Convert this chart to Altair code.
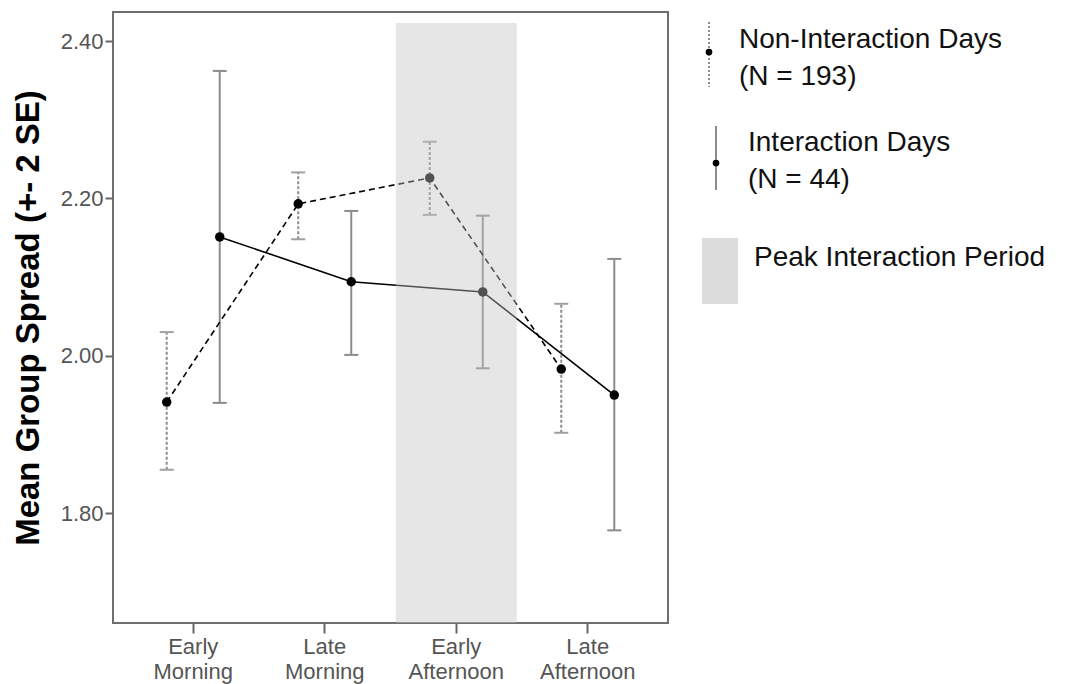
import altair as alt
import pandas as pd

# ---- data ----
periods = ["Early Morning", "Late Morning", "Early Afternoon", "Late Afternoon"]
series_names = ["Non-Interaction Days", "Interaction Days"]

non_mean = [1.941, 2.193, 2.226, 1.983]
non_lo = [1.855, 2.148, 2.179, 1.902]
non_hi = [2.030, 2.233, 2.272, 2.066]

int_mean = [2.151, 2.094, 2.081, 1.950]
int_lo = [1.940, 2.001, 1.984, 1.778]
int_hi = [2.362, 2.184, 2.178, 2.123]

y_ticks = [1.80, 2.00, 2.20, 2.40]
y_domain = [1.6602, 2.4369]
peak_period = ["Early Afternoon"]
peak_top = [2.4229]

legend_labels = ["Non-Interaction Days", "(N = 193)", "Interaction Days", "(N = 44)",
                 "Peak Interaction Period"]

rows = []
for i, p in enumerate(periods):
    rows.append({"period": p, "series": series_names[0], "mean": non_mean[i],
                 "lo": non_lo[i], "hi": non_hi[i]})
    rows.append({"period": p, "series": series_names[1], "mean": int_mean[i],
                 "lo": int_lo[i], "hi": int_hi[i]})
df = pd.DataFrame(rows)
df_non = df[df.series == series_names[0]]
df_int = df[df.series == series_names[1]]
shade_df = pd.DataFrame({"period": peak_period, "top": peak_top, "bottom": [y_domain[0]]})

FONT = "Liberation Sans"

x_enc = alt.X(
    "period:N",
    sort=periods,
    scale=alt.Scale(domain=periods, paddingInner=0, paddingOuter=0.11),
    axis=alt.Axis(
        title=None, labelAngle=0, labelExpr="split(datum.label, ' ')",
        labelFontSize=22, labelFont=FONT, labelColor="#555555", labelLineHeight=25,
        labelPadding=3, tickSize=10, tickColor="#666666", tickWidth=2, domain=False,
        grid=False,
    ),
)
xoff = alt.XOffset("series:N", sort=series_names,
                   scale=alt.Scale(domain=series_names, paddingInner=0, paddingOuter=0.24))

y_axis = alt.Axis(
    title="Mean Group Spread (+- 2 SE)", values=y_ticks, format=".2f",
    labelFontSize=22, labelFont=FONT, labelColor="#555555", labelPadding=2,
    tickSize=8, tickColor="#666666", tickWidth=2, domain=False, grid=False,
    titleFont=FONT, titleFontSize=33, titleFontWeight="bold", titleColor="#000000",
    titleAngle=-90, titleX=-85, titleY=305.5, titleAlign="center", titleBaseline="middle",
)
y_scale = alt.Scale(domain=y_domain, nice=False, zero=False)


def Y(field):
    return alt.Y(field, scale=y_scale, axis=y_axis)


# error bars
bars_non = alt.Chart(df_non).mark_rule(color="#8c8c8c", strokeWidth=2, strokeDash=[3, 2]).encode(
    x=x_enc, xOffset=xoff, y=Y("lo:Q"), y2="hi:Q")
bars_int = alt.Chart(df_int).mark_rule(color="#8c8c8c", strokeWidth=2).encode(
    x=x_enc, xOffset=xoff, y=Y("lo:Q"), y2="hi:Q")

caps = []
for d, col in ((df_non, "#a0a0a0"), (df_int, "#8c8c8c")):
    for f in ("lo:Q", "hi:Q"):
        caps.append(alt.Chart(d).mark_tick(color=col, size=14, thickness=2, opacity=1).encode(
            x=x_enc, xOffset=xoff, y=Y(f)))

line_non = alt.Chart(df_non).mark_line(color="#000000", strokeWidth=1.6, strokeDash=[6, 4]).encode(
    x=x_enc, xOffset=xoff, y=Y("mean:Q"))
line_int = alt.Chart(df_int).mark_line(color="#000000", strokeWidth=1.6).encode(
    x=x_enc, xOffset=xoff, y=Y("mean:Q"))
points = alt.Chart(df).mark_circle(color="#000000", size=90, opacity=1).encode(
    x=x_enc, xOffset=xoff, y=Y("mean:Q"))

shade = alt.Chart(shade_df).mark_bar(
    color="#c3c3c3", opacity=0.42, width=alt.RelativeBandSize(0.92)
).encode(x=x_enc, y=Y("top:Q"), y2="bottom:Q")

# ---- legend ----
one = pd.DataFrame({"k": [0]})
leg = []
leg.append(alt.Chart(one).mark_rule(color="#8c8c8c", strokeWidth=2, strokeDash=[2, 2]).encode(
    x=alt.value(596), y=alt.value(10), y2=alt.value(75)))
leg.append(alt.Chart(one).mark_circle(color="#000000", size=45, opacity=1).encode(
    x=alt.value(596), y=alt.value(40)))
leg.append(alt.Chart(one).mark_rule(color="#8c8c8c", strokeWidth=2).encode(
    x=alt.value(603), y=alt.value(114), y2=alt.value(178)))
leg.append(alt.Chart(one).mark_circle(color="#000000", size=45, opacity=1).encode(
    x=alt.value(603), y=alt.value(151)))
leg.append(alt.Chart(one).mark_rect(color="#dcdcdc").encode(
    x=alt.value(589), x2=alt.value(625), y=alt.value(226), y2=alt.value(292)))

text_pos = [(626, 28), (626, 65), (635, 131), (635, 168), (641, 246)]
for lab, (tx, ty) in zip(legend_labels, text_pos):
    leg.append(alt.Chart(pd.DataFrame({"label": [lab]})).mark_text(
        align="left", baseline="middle", font=FONT, fontSize=28, color="#111111"
    ).encode(x=alt.value(tx), y=alt.value(ty), text="label:N"))

chart = alt.layer(
    bars_non, bars_int, *caps, line_non, line_int, points, shade, *leg
).properties(
    width=555, height=611,
    autosize=alt.AutoSizeParams(type="none"),
    padding={"left": 105, "top": 4, "right": 388, "bottom": 61},
    background="#ffffff",
).configure_view(
    stroke="#6e6e6e", strokeWidth=2
)

chart.save("out.html", embed_options={"renderer": "svg", "actions": False})
